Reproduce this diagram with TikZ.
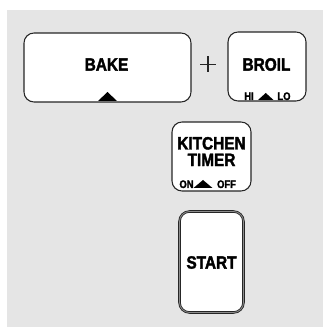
\documentclass[tikz,border=0pt]{standalone}
\usepackage{fontspec}
\newfontfamily\keyfont{Liberation Sans Bold}[FakeStretch=0.86, FakeBold=2]
\begin{document}
\begin{tikzpicture}[x=0.75pt,y=-0.75pt,
  key/.style={draw=black!85, line width=0.8pt, fill=white, rounded corners=7.5pt, inner sep=0pt},
  startkey/.style={draw=black!85, double=black!45, double distance=0.6pt, line width=0.65pt, fill=white, rounded corners=7.5pt, inner sep=0pt},
  big/.style={font=\keyfont\fontsize{13.4}{13}\selectfont, inner sep=0pt},
  small/.style={font=\keyfont\fontsize{8.2}{8}\selectfont, inner sep=0pt, anchor=base},
  tri/.style={fill=black}]
\useasboundingbox (0,0) rectangle (323,327);
\fill[black!10] (7,10) rectangle (323,327);
% keys
\node[key, minimum width=167*0.75pt, minimum height=69*0.75pt] (bake) at (107.5,67.5) {};
\node[key, minimum width=78*0.75pt, minimum height=69*0.75pt] (broil) at (267,66.5) {};
\node[key, minimum width=79*0.75pt, minimum height=69*0.75pt] (timer) at (211.5,156.5) {};
\node[startkey, minimum width=64*0.75pt, minimum height=101*0.75pt] (start) at (211.5,262) {};
% labels
\node[big] (bakel) at (106.5,64.5) {BAKE};
\node[big] (broill) at (266.5,64.5) {BROIL};
\node[big, align=center, font=\keyfont\fontsize{13.4}{12.4}\selectfont] (timerl) at (211.5,151.5) {KITCHEN\\TIMER};
\node[big] (startl) at (211.5,262.5) {START};
\node[small] (hi) at (249,100) {HI};
\node[small] (lo) at (284,100) {LO};
\node[small] (on) at (186.5,188) {ON};
\node[small] (off) at (226.5,188) {OFF};
% plus
\draw[line width=0.9pt, black!85] (200,64.5) -- (216,64.5) (208,56.5) -- (208,72.5);
% triangles
\fill[tri] (98,101) -- (117,101) -- (107.5,92) -- cycle;
\fill[tri] (258,100) -- (273.5,100) -- (265.75,93) -- cycle;
\fill[tri] (193.5,188) -- (212.5,188) -- (203,180) -- cycle;
\end{tikzpicture}
\end{document}
